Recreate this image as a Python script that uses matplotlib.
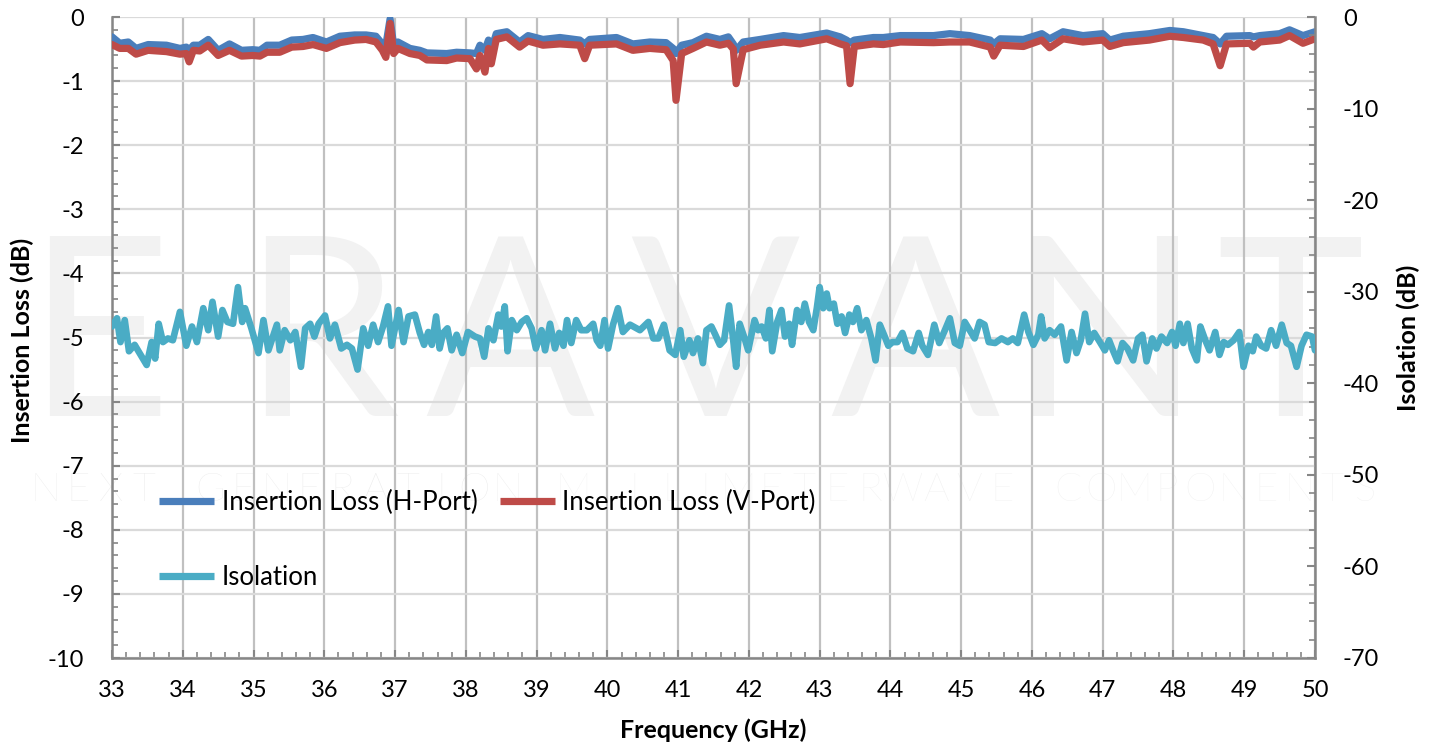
import matplotlib
matplotlib.use("Agg")
import matplotlib.pyplot as plt
from matplotlib.ticker import MultipleLocator, FuncFormatter

plt.rcParams['font.family'] = ['Lato', 'DejaVu Sans']
plt.rcParams['axes.unicode_minus'] = False

# ---------------- data ----------------
il_freq = [33.00, 33.11, 33.23, 33.34, 33.51, 33.77, 33.96, 34.05, 34.09, 34.15,
           34.24, 34.36, 34.50, 34.66, 34.83, 34.99, 35.09, 35.19, 35.37, 35.54,
           35.70, 35.84, 36.03, 36.22, 36.43, 36.59, 36.73, 36.82, 36.87, 36.93,
           36.98, 37.04, 37.21, 37.35, 37.45, 37.73, 37.87, 38.06, 38.15, 38.20,
           38.27, 38.32, 38.36, 38.43, 38.58, 38.76, 38.88, 39.09, 39.33, 39.61,
           39.68, 39.75, 40.13, 40.36, 40.60, 40.83, 40.93, 40.97, 41.05, 41.21,
           41.40, 41.59, 41.71, 41.78, 41.82, 41.92, 42.16, 42.49, 42.72, 43.10,
           43.29, 43.38, 43.43, 43.49, 43.76, 43.90, 44.14, 44.61, 44.84, 45.12,
           45.41, 45.46, 45.55, 45.88, 46.14, 46.25, 46.44, 46.72, 47.00, 47.10,
           47.29, 47.66, 47.95, 48.14, 48.42, 48.56, 48.66, 48.75, 49.08, 49.13,
           49.22, 49.50, 49.64, 49.83, 50.00]

il_h_port = [-0.31, -0.41, -0.39, -0.49, -0.43, -0.44, -0.49, -0.47, -0.52, -0.44,
             -0.44, -0.35, -0.52, -0.42, -0.52, -0.51, -0.52, -0.44, -0.44, -0.36,
             -0.35, -0.32, -0.39, -0.30, -0.28, -0.28, -0.30, -0.42, -0.44, -0.03,
             -0.44, -0.39, -0.49, -0.52, -0.56, -0.57, -0.55, -0.56, -0.57, -0.44,
             -0.52, -0.36, -0.52, -0.26, -0.23, -0.39, -0.29, -0.35, -0.32, -0.36,
             -0.42, -0.35, -0.32, -0.42, -0.39, -0.40, -0.49, -0.57, -0.44, -0.40,
             -0.30, -0.35, -0.31, -0.42, -0.52, -0.39, -0.35, -0.29, -0.32, -0.25,
             -0.31, -0.36, -0.40, -0.36, -0.32, -0.32, -0.29, -0.29, -0.26, -0.29,
             -0.36, -0.42, -0.34, -0.35, -0.26, -0.34, -0.23, -0.29, -0.26, -0.36,
             -0.30, -0.26, -0.21, -0.23, -0.29, -0.32, -0.42, -0.30, -0.29, -0.31,
             -0.29, -0.26, -0.20, -0.29, -0.23]

il_v_port = [-0.43, -0.49, -0.49, -0.58, -0.52, -0.54, -0.58, -0.57, -0.70, -0.52,
             -0.53, -0.44, -0.60, -0.52, -0.61, -0.60, -0.61, -0.55, -0.55, -0.47,
             -0.46, -0.43, -0.49, -0.40, -0.36, -0.35, -0.39, -0.52, -0.63, -0.10,
             -0.57, -0.49, -0.57, -0.60, -0.67, -0.68, -0.64, -0.65, -0.81, -0.60,
             -0.86, -0.49, -0.73, -0.35, -0.31, -0.47, -0.375, -0.44, -0.42, -0.44,
             -0.65, -0.44, -0.42, -0.52, -0.49, -0.51, -0.68, -1.30, -0.57, -0.49,
             -0.39, -0.44, -0.41, -0.50, -1.04, -0.51, -0.44, -0.39, -0.42, -0.34,
             -0.42, -0.45, -1.04, -0.46, -0.42, -0.43, -0.39, -0.40, -0.39, -0.39,
             -0.47, -0.61, -0.44, -0.46, -0.36, -0.48, -0.34, -0.39, -0.36, -0.46,
             -0.40, -0.36, -0.30, -0.32, -0.36, -0.42, -0.76, -0.42, -0.41, -0.47,
             -0.39, -0.36, -0.29, -0.41, -0.34]

iso_freq = [33.00, 33.07, 33.12, 33.18, 33.24, 33.32, 33.42, 33.49, 33.56, 33.61,
            33.66, 33.72, 33.79, 33.86, 33.96, 34.05, 34.13, 34.20, 34.29, 34.36,
            34.42, 34.50, 34.56, 34.63, 34.71, 34.78, 34.84, 34.88, 34.97, 35.07,
            35.14, 35.21, 35.33, 35.37, 35.44, 35.52, 35.59, 35.67, 35.73, 35.80,
            35.86, 35.92, 36.01, 36.08, 36.15, 36.24, 36.32, 36.39, 36.47, 36.55,
            36.62, 36.69, 36.76, 36.83, 36.90, 36.95, 37.05, 37.12, 37.19, 37.28,
            37.35, 37.41, 37.47, 37.52, 37.58, 37.63, 37.68, 37.74, 37.80, 37.87,
            37.95, 38.03, 38.13, 38.20, 38.26, 38.32, 38.39, 38.46, 38.50, 38.55,
            38.59, 38.65, 38.72, 38.79, 38.86, 38.93, 38.99, 39.07, 39.12, 39.19,
            39.26, 39.32, 39.38, 39.43, 39.49, 39.56, 39.63, 39.71, 39.80, 39.85,
            39.90, 39.96, 40.01, 40.08, 40.15, 40.22, 40.32, 40.46, 40.58, 40.65,
            40.72, 40.80, 40.88, 40.96, 41.03, 41.08, 41.16, 41.21, 41.28, 41.35,
            41.40, 41.47, 41.52, 41.59, 41.65, 41.72, 41.77, 41.82, 41.87, 41.94,
            41.99, 42.08, 42.13, 42.18, 42.24, 42.29, 42.33, 42.40, 42.46, 42.51,
            42.57, 42.61, 42.68, 42.74, 42.79, 42.85, 42.91, 42.96, 43.00, 43.05,
            43.10, 43.14, 43.20, 43.25, 43.31, 43.36, 43.42, 43.47, 43.53, 43.59,
            43.66, 43.73, 43.79, 43.85, 43.92, 43.97, 44.03, 44.10, 44.17, 44.24,
            44.32, 44.40, 44.45, 44.53, 44.62, 44.69, 44.77, 44.84, 44.91, 44.98,
            45.05, 45.12, 45.19, 45.26, 45.33, 45.39, 45.48, 45.57, 45.66, 45.73,
            45.80, 45.89, 45.95, 46.02, 46.09, 46.13, 46.18, 46.25, 46.32, 46.41,
            46.49, 46.56, 46.63, 46.69, 46.75, 46.81, 46.88, 46.96, 47.03, 47.09,
            47.15, 47.21, 47.28, 47.35, 47.43, 47.50, 47.56, 47.62, 47.70, 47.76,
            47.83, 47.91, 47.98, 48.03, 48.09, 48.14, 48.20, 48.26, 48.33, 48.38,
            48.45, 48.51, 48.59, 48.65, 48.71, 48.77, 48.85, 48.93, 48.99, 49.06,
            49.12, 49.17, 49.24, 49.31, 49.38, 49.45, 49.53, 49.60, 49.66, 49.74,
            49.81, 49.88, 49.96, 50.00]

isolation = [-33.8, -32.9, -35.5, -33.1, -36.5, -35.8, -37.1, -38.0, -35.5, -37.3,
             -33.5, -35.5, -35.1, -35.3, -32.2, -35.9, -33.8, -35.5, -31.8, -34.2,
             -31.1, -34.9, -32.0, -33.3, -33.5, -29.5, -33.3, -31.8, -34.0, -36.7,
             -33.1, -36.4, -33.6, -36.4, -34.2, -35.3, -34.4, -38.2, -34.0, -33.5,
             -34.9, -33.5, -32.6, -35.1, -33.6, -36.2, -35.8, -36.2, -38.5, -34.0,
             -35.9, -33.6, -35.5, -33.8, -31.6, -35.9, -32.0, -35.5, -32.7, -32.5,
             -34.5, -35.8, -34.4, -35.8, -32.7, -36.2, -34.5, -34.0, -36.4, -34.7,
             -36.7, -34.4, -34.9, -35.1, -37.1, -34.0, -35.3, -32.5, -33.8, -31.6,
             -36.5, -33.1, -34.2, -33.3, -32.9, -34.0, -36.2, -34.2, -36.4, -33.5,
             -36.2, -34.5, -35.9, -33.1, -35.6, -33.1, -34.2, -34.2, -33.5, -35.3,
             -35.9, -33.1, -36.2, -33.6, -31.8, -34.4, -33.6, -34.2, -33.3, -35.1,
             -35.1, -33.6, -36.4, -36.9, -34.2, -37.1, -35.3, -36.7, -35.1, -37.8,
             -34.2, -33.8, -34.6, -35.8, -35.3, -31.5, -34.7, -38.2, -33.5, -35.1,
             -36.4, -33.1, -34.2, -33.8, -35.1, -32.0, -36.5, -33.3, -32.0, -34.9,
             -33.5, -35.8, -32.0, -33.3, -31.3, -33.3, -34.2, -31.8, -29.5, -31.8,
             -30.2, -31.8, -31.3, -33.5, -32.7, -34.5, -32.5, -33.3, -31.8, -34.2,
             -33.1, -35.1, -37.5, -33.6, -34.9, -35.9, -35.5, -35.5, -34.5, -36.2,
             -36.5, -34.5, -35.9, -36.9, -33.6, -35.6, -34.2, -32.9, -35.6, -35.9,
             -33.3, -34.2, -35.1, -33.3, -33.6, -35.5, -35.6, -35.1, -35.5, -35.1,
             -35.6, -32.5, -34.4, -35.8, -34.7, -32.7, -35.1, -34.2, -34.7, -33.8,
             -37.5, -34.4, -36.7, -35.3, -32.4, -35.5, -34.5, -35.5, -36.4, -35.3,
             -36.5, -37.6, -35.6, -36.2, -37.5, -35.1, -34.7, -37.6, -35.1, -36.2,
             -34.9, -35.6, -34.4, -35.9, -33.5, -35.6, -33.5, -36.2, -37.5, -33.8,
             -35.3, -36.4, -34.4, -36.9, -35.5, -35.8, -35.3, -34.4, -38.2, -35.9,
             -36.5, -34.9, -35.9, -36.2, -34.2, -35.9, -33.6, -35.6, -35.9, -38.2,
             -35.9, -34.7, -34.9, -36.4]

label_h = "Insertion Loss (H-Port)"
label_v = "Insertion Loss (V-Port)"
label_iso = "Isolation"

# ---------------- figure ----------------
W, H = 1435, 748
fig = plt.figure(figsize=(W / 100, H / 100), dpi=100)
fig.patch.set_facecolor('white')

# watermark (behind the axes)
wm_letters = ["E", "R", "A", "V", "A", "N", "T"]
wm_x = [98, 320, 510, 715, 915, 1105, 1290]
for ch, xp in zip(wm_letters, wm_x):
    fig.text(xp / W, 1 - 345 / H, ch, fontsize=180, color='#f2f2f2',
             fontweight='normal', ha='center', va='center', zorder=-5)
sub = "NEXT GENERATION MILLIMETERWAVE COMPONENTS"
n = len(sub)
for i, ch in enumerate(sub):
    xp = 45 + i * (1365 - 45) / (n - 1)
    col = '#eaeaea' if i < 15 else '#f0f0f0'
    fig.text(xp / W, 1 - 490 / H, ch, fontsize=29, color=col,
             fontweight='light', ha='center', va='center', zorder=-5)

left, right, top, bottom = 112, 1315, 17, 658
ax = fig.add_axes([left / W, 1 - bottom / H, (right - left) / W, (bottom - top) / H])
ax.set_facecolor('none')
ax2 = ax.twinx()
ax2.set_facecolor('none')

blue = '#4a7ebb'
red = '#be4b48'
aqua = '#4aacc5'

lh, = ax.plot(il_freq, il_h_port, color=blue, lw=5.2, solid_joinstyle='round',
              solid_capstyle='round', label=label_h, zorder=3)
lv, = ax.plot(il_freq, il_v_port, color=red, lw=5.2, solid_joinstyle='round',
              solid_capstyle='round', label=label_v, zorder=4)
li, = ax2.plot(iso_freq, isolation, color=aqua, lw=4.8, solid_joinstyle='round',
               solid_capstyle='round', label=label_iso, zorder=3)

ax.set_xlim(33, 50)
ax.set_ylim(-10, 0)
ax2.set_ylim(-70, 0)

ax.xaxis.set_major_locator(MultipleLocator(1))
ax.xaxis.set_minor_locator(MultipleLocator(0.2))
ax.yaxis.set_major_locator(MultipleLocator(1))
ax.yaxis.set_minor_locator(MultipleLocator(0.2))
ax2.yaxis.set_major_locator(MultipleLocator(10))
ax2.yaxis.set_minor_locator(MultipleLocator(2))

fmt = FuncFormatter(lambda v, p: f"{v:.0f}")
ax.xaxis.set_major_formatter(fmt)
ax.yaxis.set_major_formatter(fmt)
ax2.yaxis.set_major_formatter(fmt)

ax.grid(True, which='major', axis='x', color='#c0c0c0', lw=1.6, zorder=0)
ax.grid(True, which='major', axis='y', color='#dadada', lw=1.6, zorder=0)
ax.set_axisbelow(True)

spine_col = '#868686'
for a in (ax, ax2):
    for s in a.spines.values():
        s.set_visible(False)
ax.spines['left'].set_visible(True)
ax.spines['bottom'].set_visible(True)
ax2.spines['right'].set_visible(True)
for s in (ax.spines['left'], ax.spines['bottom'], ax2.spines['right']):
    s.set_color(spine_col)
    s.set_linewidth(1.8)

ax.tick_params(axis='both', which='major', direction='in', length=6, width=1.5,
               color=spine_col, labelsize=17, labelcolor='black')
ax.tick_params(axis='both', which='minor', direction='in', length=4.5, width=1.2,
               color=spine_col)
ax.tick_params(axis='x', which='major', pad=16)
ax.tick_params(axis='y', which='major', pad=20)
ax2.tick_params(axis='y', which='major', direction='in', length=6, width=1.5,
                color=spine_col, labelsize=17, pad=20)
ax2.tick_params(axis='y', which='minor', direction='in', length=4.5, width=1.2,
                color=spine_col)

fig.text(22 / W, 1 - 340 / H, "Insertion Loss (dB)", rotation=90, ha='center',
         va='center', fontsize=18, fontweight='bold')
fig.text(1408 / W, 1 - 338 / H, "Isolation (dB)", rotation=90, ha='center',
         va='center', fontsize=18, fontweight='bold')
fig.text(713 / W, 1 - 730 / H, "Frequency (GHz)", ha='center', va='center',
         fontsize=18, fontweight='bold')

leg = ax2.legend([lh, li, lv], [label_h, label_iso, label_v], ncol=2,
                 loc='upper left', bbox_to_anchor=(159 / W, 1 - 490 / H),
                 bbox_transform=fig.transFigure, frameon=False, fontsize=18.5,
                 handlelength=2.15, handletextpad=0.3, columnspacing=0.85,
                 labelspacing=1.95, borderpad=0, borderaxespad=0)
for h in leg.legend_handles:
    h.set_linewidth(5.2)
    h.set_solid_capstyle('butt')

fig.savefig("out.png", dpi=100, facecolor='white')
